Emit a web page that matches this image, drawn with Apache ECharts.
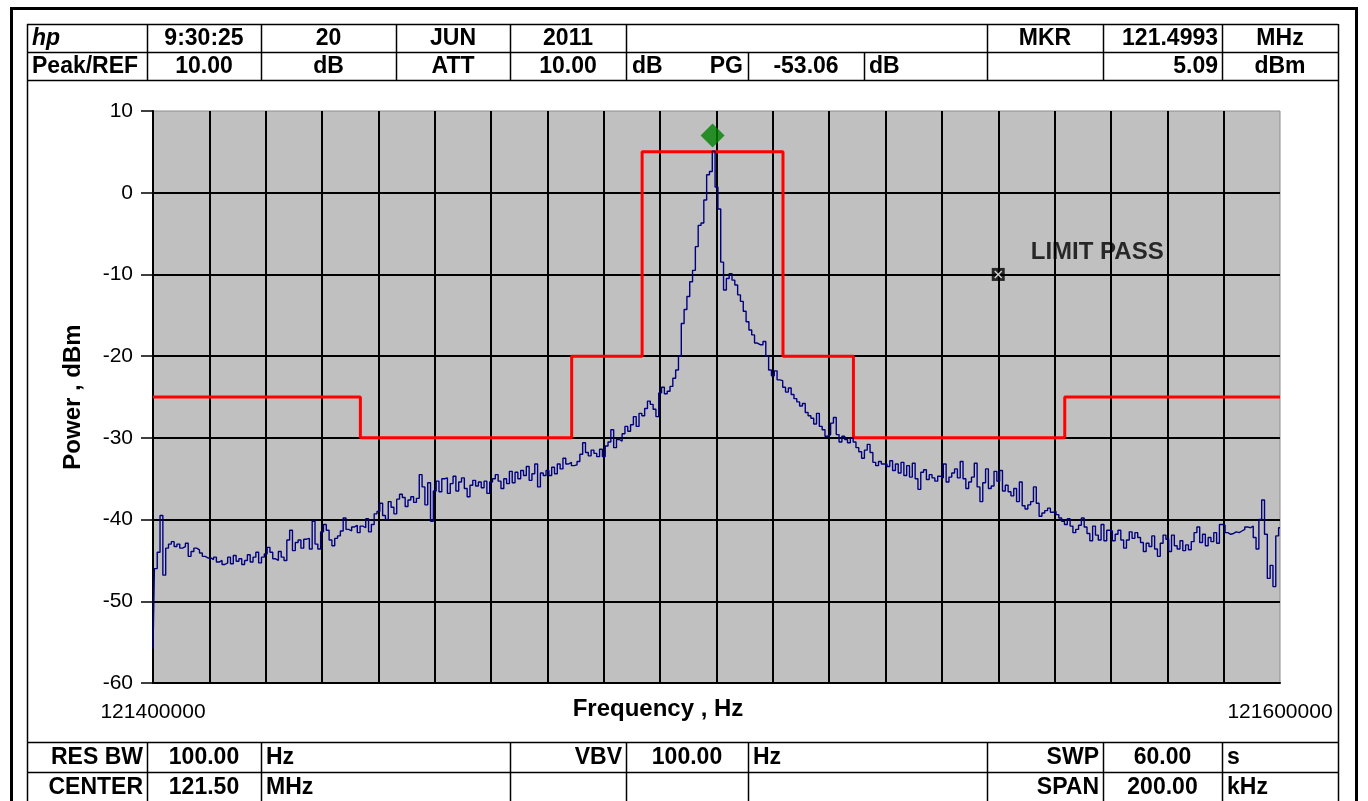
<!DOCTYPE html>
<html>
<head>
<meta charset="utf-8">
<script src="https://cdn.jsdelivr.net/npm/echarts@6/dist/echarts.min.js"></script>
<style>
html,body{margin:0;padding:0;background:#fff;}
#chart{width:1368px;height:801px;}
</style>
</head>
<body>
<div id="chart"></div>
<script>
// ---------------- DATA ----------------
const FREQ_START = 121400000;
const FREQ_STOP = 121600000;
const FREQ_STEP_TICK = 10000;
const X_LABELS = ['121400000', '121600000'];
const Y_MIN = -60, Y_MAX = 10, Y_STEP = 10;

// measured trace (dBm), 401 points evenly spaced over the span
const TRACE = [
  -55.8, -46.0, -44.0, -39.5, -46.8, -43.5, -43.0, -42.7, -43.3, -43.0, -43.5, -43.3, -42.9, -44.5, -43.9, -43.5, -43.7, -44.1, -44.5, -44.7,
  -44.7, -44.9, -44.6, -45.2, -45.0, -45.5, -45.3, -44.6, -45.4, -44.4, -45.1, -44.8, -45.5, -45.0, -44.3, -45.2, -44.6, -44.0, -45.3, -44.6,
  -44.2, -43.4, -44.0, -44.8, -45.0, -43.9, -44.6, -45.0, -42.5, -41.3, -43.8, -42.8, -42.5, -43.5, -42.4, -42.3, -43.6, -40.2, -43.0, -43.6,
  -41.5, -40.6, -41.3, -42.5, -43.2, -42.3, -42.0, -41.4, -39.8, -41.2, -41.4, -40.9, -40.7, -41.6, -40.8, -41.0, -39.9, -41.5, -40.6, -39.3,
  -39.0, -38.0, -39.5, -40.0, -37.8, -38.5, -39.3, -37.5, -36.9, -37.3, -38.4, -37.6, -37.2, -37.9, -37.4, -34.5, -36.0, -38.2, -35.5, -40.2,
  -36.5, -35.3, -36.6, -35.0, -34.9, -36.8, -35.6, -34.7, -36.5, -35.4, -34.9, -36.2, -37.2, -35.8, -35.2, -35.9, -35.4, -36.1, -35.3, -36.8,
  -35.4, -35.0, -34.5, -35.3, -36.2, -35.0, -35.6, -34.1, -35.5, -34.2, -35.0, -34.0, -34.6, -33.5, -35.2, -34.4, -33.2, -36.0, -34.3, -34.6,
  -34.0, -34.6, -33.6, -34.4, -33.2, -33.8, -32.5, -33.2, -33.0, -33.4, -33.3, -32.9, -32.0, -30.6, -31.8, -32.2, -31.5, -31.9, -32.3, -31.4,
  -32.3, -31.0, -30.5, -29.0, -31.2, -30.2, -30.4, -29.5, -28.6, -29.2, -28.4, -27.4, -28.6, -27.0, -27.3, -26.4, -25.5, -25.9, -26.5, -27.4,
  -24.5, -23.8, -24.6, -24.3, -23.7, -22.7, -21.7, -20.0, -16.0, -14.3, -12.7, -10.9, -9.5, -6.6, -4.0, -3.7, -0.9, 2.2, 2.6, 5.09,
  0.7, -2.0, -8.5, -11.9, -10.5, -9.9, -10.7, -11.3, -12.5, -13.3, -14.5, -15.8, -16.8, -17.4, -18.4, -18.6, -18.6, -18.2, -20.0, -21.7,
  -22.4, -21.8, -22.9, -23.0, -23.8, -24.4, -23.9, -24.7, -25.2, -25.6, -26.1, -25.8, -26.9, -27.3, -27.6, -28.3, -27.0, -28.6, -29.0, -29.8,
  -29.6, -28.2, -27.5, -29.6, -30.5, -29.8, -30.2, -30.6, -30.0, -30.5, -31.2, -31.7, -32.5, -31.5, -30.8, -31.8, -33.0, -33.4, -32.9, -33.2,
  -33.2, -33.5, -32.8, -34.0, -33.2, -34.3, -33.0, -34.6, -33.4, -34.8, -33.1, -35.0, -36.3, -34.2, -33.9, -35.1, -34.5, -34.9, -35.3, -34.7,
  -34.9, -33.2, -35.4, -34.8, -34.3, -33.8, -34.9, -32.9, -35.0, -36.2, -35.4, -34.8, -33.1, -36.0, -37.8, -35.5, -33.8, -36.2, -35.9, -34.1,
  -35.3, -34.0, -36.5, -35.8, -36.6, -37.1, -36.2, -37.8, -35.4, -38.3, -38.7, -38.2, -37.8, -36.0, -38.0, -39.6, -39.2, -38.9, -38.6, -39.1,
  -39.0, -39.4, -39.8, -40.2, -40.6, -39.9, -40.8, -41.6, -41.2, -40.7, -39.8, -40.9, -41.7, -42.6, -40.8, -41.9, -42.5, -40.6, -42.6, -41.3,
  -41.4, -42.6, -41.8, -41.3, -42.5, -43.5, -42.5, -41.5, -42.3, -41.6, -42.2, -42.8, -43.9, -42.9, -43.3, -42.0, -43.6, -44.5, -42.9, -41.9,
  -42.4, -43.9, -41.9, -43.2, -43.6, -42.6, -43.8, -43.1, -43.7, -42.7, -41.6, -40.9, -42.8, -41.8, -43.2, -42.2, -42.7, -41.6, -42.9, -40.6,
  -40.7, -41.6, -41.8, -41.7, -41.5, -41.6, -41.4, -41.2, -40.9, -41.0, -40.8, -42.2, -43.6, -40.0, -37.6, -41.8, -47.2, -45.6, -48.2, -42.0,
  -41.0
];

// limit mask: segment start frequencies and levels (dBm)
const LIMIT_FREQ  = [121400000, 121436800, 121474300, 121486800, 121511800, 121524300, 121561800, 121600000];
const LIMIT_LEVEL = [-25, -30, -20, 5, -20, -30, -25, -25];

// marker
const MARKER_FREQ = 121499300;
const MARKER_SYMBOL_LEVEL = 7;
// limit verdict point
const VERDICT_FREQ = 121550000;
const VERDICT_LEVEL = -10;
const VERDICT_TEXT = 'LIMIT PASS';

const X_TITLE = 'Frequency , Hz';
const Y_TITLE = 'Power , dBm';

const HEADER_ROW1 = ['hp', '9:30:25', '20', 'JUN', '2011', '', 'MKR', '121.4993', 'MHz'];
const HEADER_ROW2 = ['Peak/REF', '10.00', 'dB', 'ATT', '10.00', ['dB', 'PG'], '-53.06', 'dB', '', '5.09', 'dBm'];
const FOOTER_ROW1 = ['RES BW', '100.00', 'Hz', 'VBV', '100.00', 'Hz', 'SWP', '60.00', 's'];
const FOOTER_ROW2 = ['CENTER', '121.50', 'MHz', '', '', '', 'SPAN', '200.00', 'kHz'];

// ---------------- LAYOUT ----------------
const H1_EDGES = [27, 147, 261, 396, 510, 626, 987, 1103, 1222, 1338];
const H1_ALIGN = ['left', 'center', 'center', 'center', 'center', 'center', 'center', 'right', 'center'];
const H2_EDGES = [27, 147, 261, 396, 510, 626, 748, 864, 987, 1103, 1222, 1338];
const H2_ALIGN = ['left', 'center', 'center', 'center', 'center', 'split', 'center', 'left', 'center', 'right', 'center'];
const F_EDGES = [27, 147, 261, 510, 626, 748, 987, 1103, 1222, 1338];
const F_ALIGN = ['right', 'center', 'left', 'right', 'center', 'left', 'right', 'center', 'left'];
const ROW_Y = {h1: [24, 52], h2: [52, 80], f1: [742, 772], f2: [772, 802]};

const FONT_FAMILY = '"Liberation Sans", Arial, sans-serif';
const TABLE_FONT = 'bold 23px ' + FONT_FAMILY;

const graphics = [];
function hline(x1, x2, y, w) {
  graphics.push({type: 'line', silent: true, shape: {x1: x1, y1: y + 0.5, x2: x2, y2: y + 0.5}, style: {stroke: '#000', lineWidth: w || 1.5}});
}
function vline(x, y1, y2, w) {
  graphics.push({type: 'line', silent: true, shape: {x1: x + 0.5, y1: y1, x2: x + 0.5, y2: y2}, style: {stroke: '#000', lineWidth: w || 1.5}});
}
function txt(text, x, y, align, font) {
  if (!text) return;
  graphics.push({type: 'text', silent: true, style: {text: text, x: x, y: y, textAlign: align, textVerticalAlign: 'middle', font: font || TABLE_FONT, fill: '#000'}});
}
function row(texts, edges, aligns, yr, italicFirst) {
  const yc = (yr[0] + yr[1]) / 2 + 1;
  for (let i = 0; i < texts.length; i++) {
    const x0 = edges[i], x1 = edges[i + 1];
    const a = aligns[i];
    const t = texts[i];
    const f = (italicFirst && i === 0) ? 'italic ' + TABLE_FONT : TABLE_FONT;
    if (a === 'split') {
      txt(t[0], x0 + 6, yc, 'left', f);
      txt(t[1], x1 - 5, yc, 'right', f);
    } else if (a === 'left') txt(t, x0 + 5, yc, 'left', f);
    else if (a === 'right') txt(t, x1 - 4, yc, 'right', f);
    else txt(t, (x0 + x1) / 2, yc, 'center', f);
  }
  for (let i = 1; i < edges.length - 1; i++) vline(edges[i], yr[0], yr[1]);
}

// outer frame
graphics.push({type: 'rect', silent: true, shape: {x: 11.5, y: 8.5, width: 1345, height: 800}, style: {fill: 'none', stroke: '#000', lineWidth: 3}});
// inner frame
vline(27, 24, 801);
vline(1338, 24, 801);
hline(27, 1338, 24);
hline(27, 1338, 52);
hline(27, 1338, 80);
hline(27, 1338, 742);
hline(27, 1338, 772);
row(HEADER_ROW1, H1_EDGES, H1_ALIGN, ROW_Y.h1, true);
row(HEADER_ROW2, H2_EDGES, H2_ALIGN, ROW_Y.h2, false);
row(FOOTER_ROW1, F_EDGES, F_ALIGN, ROW_Y.f1, false);
row(FOOTER_ROW2, F_EDGES, F_ALIGN, ROW_Y.f2, false);
// x axis title
txt(X_TITLE, 658, 709, 'center', 'bold 24px ' + FONT_FAMILY);

// ---------------- CHART ----------------
const step = (FREQ_STOP - FREQ_START) / (TRACE.length - 1);
const traceData = TRACE.map((v, i) => [FREQ_START + i * step, v]);
const limitData = LIMIT_FREQ.map((f, i) => [f, LIMIT_LEVEL[i]]);

const chart = echarts.init(document.getElementById('chart'), null, {renderer: 'canvas'});
chart.setOption({
  animation: false,
  backgroundColor: '#fff',
  grid: {left: 153, top: 111, width: 1127, height: 572, show: true, backgroundColor: '#C0C0C0', borderColor: '#8c8c8c', borderWidth: 1},
  xAxis: {
    type: 'value', min: FREQ_START, max: FREQ_STOP, interval: FREQ_STEP_TICK,
    axisLine: {show: true, onZero: false, lineStyle: {color: '#000', width: 2}},
    axisTick: {show: false},
    splitLine: {show: true, showMinLine: false, showMaxLine: false, lineStyle: {color: '#000', width: 2}},
    axisLabel: {
      margin: 19, color: '#000', fontSize: 21, fontFamily: FONT_FAMILY,
      showMinLabel: true, showMaxLabel: true,
      formatter: function (v) {
        if (v === FREQ_START) return X_LABELS[0];
        if (v === FREQ_STOP) return X_LABELS[1];
        return '';
      }
    }
  },
  yAxis: {
    type: 'value', min: Y_MIN, max: Y_MAX, interval: Y_STEP,
    name: Y_TITLE, nameLocation: 'middle', nameGap: 68, nameRotate: 90,
    nameTextStyle: {color: '#000', fontSize: 24, fontWeight: 'bold', fontFamily: FONT_FAMILY},
    axisLine: {show: true, lineStyle: {color: '#000', width: 2}},
    axisTick: {show: true, length: 12, lineStyle: {color: '#000', width: 1.5}},
    splitLine: {show: true, showMaxLine: false, lineStyle: {color: '#000', width: 2}},
    axisLabel: {margin: 20, color: '#000', fontSize: 21, fontFamily: FONT_FAMILY}
  },
  series: [
    {
      type: 'line', data: traceData, showSymbol: false, symbol: 'none', step: 'middle',
      lineStyle: {color: '#000080', width: 1.4}, z: 3
    },
    {
      type: 'line', data: limitData, showSymbol: false, symbol: 'none', step: 'end',
      lineStyle: {color: '#ff0000', width: 3}, z: 2
    },
    {
      type: 'scatter', data: [[MARKER_FREQ, MARKER_SYMBOL_LEVEL]], symbol: 'diamond', symbolSize: [24, 24],
      itemStyle: {color: '#008000'}, z: 5
    },
    {
      type: 'scatter', data: [[VERDICT_FREQ, VERDICT_LEVEL]], symbol: 'rect', symbolSize: 13,
      itemStyle: {color: '#000'}, z: 5,
      label: {show: true, formatter: VERDICT_TEXT, position: 'right', distance: 5, offset: [21, -22],
        color: '#000', fontSize: 24, fontWeight: 'bold', fontFamily: FONT_FAMILY}
    },
    {
      type: 'scatter', data: [[VERDICT_FREQ, VERDICT_LEVEL]],
      symbol: 'path://M2,1 L5,4 L8,1 L9,2 L6,5 L9,8 L8,9 L5,6 L2,9 L1,8 L4,5 L1,2Z', symbolSize: 8,
      itemStyle: {color: '#fff'}, z: 6, silent: true
    }
  ],
  graphic: graphics
});
</script>
</body>
</html>
